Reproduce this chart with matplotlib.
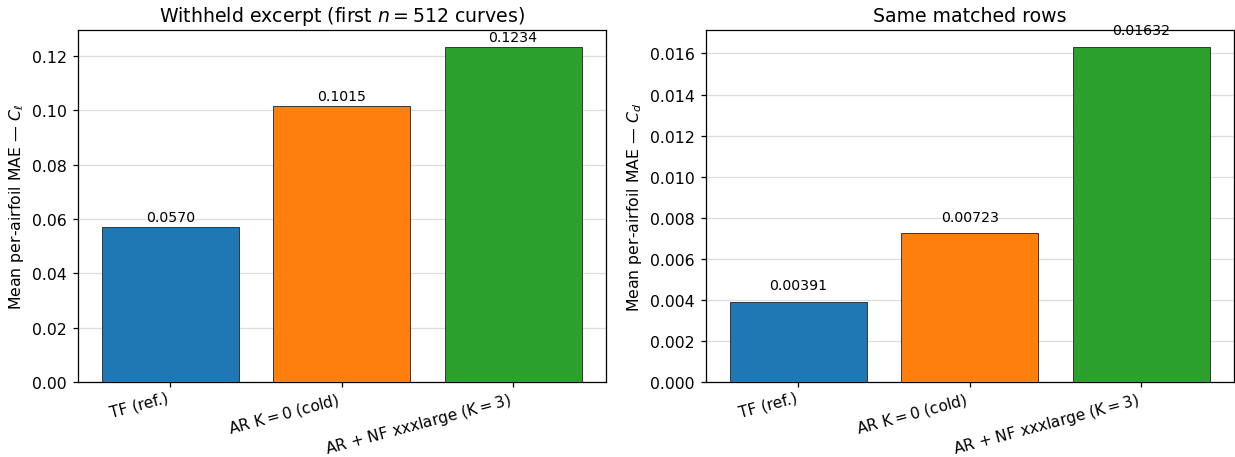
import numpy as np
import matplotlib.pyplot as plt

methods = ["TF (ref.)", r"AR K$=$0 (cold)", r"AR + NF xxxlarge (K$=$3)"]
mae_cl = [0.0570, 0.1015, 0.1234]
mae_cd = [0.00391, 0.00723, 0.01632]
colors = ["#1f77b4", "#ff7f0e", "#2ca02c"]

DPI = 113
fig, axes = plt.subplots(1, 2, figsize=(1235 / DPI, 458 / DPI), dpi=DPI)
fig.subplots_adjust(left=0.063, right=0.999, bottom=0.164, top=0.932, wspace=0.19)

panels = [
    (axes[0], mae_cl, r"Withheld excerpt (first $n = 512$ curves)",
     r"Mean per-airfoil MAE — $C_\ell$", "{:.4f}", 2),
    (axes[1], mae_cd, "Same matched rows",
     r"Mean per-airfoil MAE — $C_d$", "{:.5f}", 6),
]

x = np.arange(len(methods))
for ax, vals, title, ylabel, fmt, pad in panels:
    bars = ax.bar(x, vals, width=0.8, color=colors, edgecolor="#333333", linewidth=0.6, zorder=3)
    ax.bar_label(bars, labels=[fmt.format(v) for v in vals], padding=pad, fontsize=9)
    ax.set_ylim(0, max(vals) * 1.05)
    ax.set_title(title, fontsize=12)
    ax.set_ylabel(ylabel, fontsize=10)
    ax.set_xticks(x)
    ax.set_xticklabels(methods, rotation=15, ha="right", fontsize=9.8)
    ax.yaxis.grid(True, color="#dddddd", linewidth=0.8, zorder=0)
    ax.set_axisbelow(True)
    ax.tick_params(axis="y", labelsize=10)
    ax.tick_params(axis="x", pad=1.5)

fig.savefig("out.png", dpi=DPI)
